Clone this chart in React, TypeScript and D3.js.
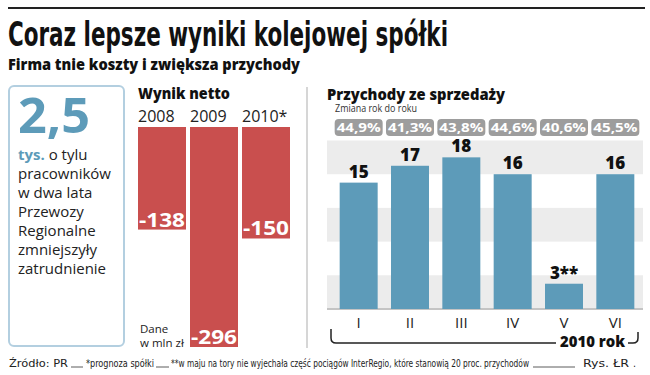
import React from "react";
import * as d3 from "d3";

const years = ["2008", "2009", "2010*"];
const netResult = [-138, -296, -150];
const months = ["I", "II", "III", "IV", "V", "VI"];
const revenue = [15, 17, 18, 16, 3, 16];
const revenueLabels = ["15", "17", "18", "16", "3**", "16"];
const yoyChange = ["44,9%", "41,3%", "43,8%", "44,6%", "40,6%", "45,5%"];
const boxLines = ["pracowników", "w dwa lata", "Przewozy", "Regionalne", "zmniejszyły", "zatrudnienie"];
const bandTicks = [0, 8, 16];

const RED = "#c94f4e";
const BLUE = "#5d9bb9";
const NARROW = "'Liberation Sans Narrow', 'DejaVu Sans Condensed', sans-serif";
const SANS = "'Open Sans', 'Noto Sans', sans-serif";

export default function App() {
  const W = 650, H = 375;

  // left chart
  const xNet = d3.scaleBand<string>().domain(years).range([138, 290]).paddingInner(0.077).paddingOuter(0);
  const yNet = d3.scaleLinear().domain([0, -296]).range([127, 347]);

  // right chart
  const xRev = d3.scaleBand<string>().domain(months).range([333, 641]).paddingInner(0.26).paddingOuter(0.13);
  const yRev = d3.scaleLinear().domain([0, 20]).range([309, 140.5]);

  const bracketL = 331, bracketR = 638, bracketY = 343;

  return (
    <svg width={W} height={H} style={{ position: "absolute", left: 0, top: 0, background: "#fff" }}>
      <rect x={0} y={0} width={W} height={H} fill="#fff" />
      {/* top rule */}
      <line x1={8} x2={645} y1={8} y2={8} stroke="#222" strokeWidth={2.2} />
      <text x={8} y={46} fontFamily={NARROW} fontWeight={700} fontSize={34} fill="#111" textLength={440} lengthAdjust="spacingAndGlyphs">
        Coraz lepsze wyniki kolejowej spółki
      </text>
      <text x={8} y={70} fontFamily={SANS} fontWeight={800} fontSize={16} fill="#111" textLength={292} lengthAdjust="spacingAndGlyphs">
        Firma tnie koszty i zwiększa przychody
      </text>

      {/* left box */}
      <rect x={9} y={86} width={115} height={260} rx={5} fill="none" stroke="#b3cfe0" strokeWidth={2} />
      <text x={18} y={133} fontFamily={SANS} fontWeight={700} fontSize={48} fill={BLUE} textLength={72} lengthAdjust="spacingAndGlyphs">
        2,5
      </text>
      <text x={18} y={160} fontFamily={SANS} fontSize={15} fill="#222">
        <tspan fontWeight={700} fill={BLUE}>tys.</tspan>
        <tspan> o tylu</tspan>
      </text>
      {boxLines.map((t, i) => (
        <text key={t} x={18} y={179 + i * 19} fontFamily={SANS} fontSize={15} fill="#222">
          {t}
        </text>
      ))}

      {/* Wynik netto */}
      <text x={138} y={99} fontFamily={SANS} fontWeight={800} fontSize={15.5} fill="#111" textLength={92} lengthAdjust="spacingAndGlyphs">
        Wynik netto
      </text>
      {years.map((y) => (
        <text key={y} x={xNet(y)!} y={122} fontFamily={SANS} fontWeight={400} fontSize={16} fill="#222">
          {y}
        </text>
      ))}
      {years.map((y, i) => {
        const x = xNet(y)!;
        const y0 = yNet(0);
        const y1 = yNet(netResult[i]);
        return (
          <g key={"b" + y}>
            <rect x={x} y={y0} width={xNet.bandwidth()} height={y1 - y0} fill={RED} />
            <text x={x + 1} y={y1 - 3} fontFamily={SANS} fontWeight={700} fontSize={20} fill="#fff" textLength={46} lengthAdjust="spacingAndGlyphs">
              {String(netResult[i])}
            </text>
          </g>
        );
      })}
      <text x={140} y={333} fontFamily={SANS} fontSize={11.5} fill="#222">Dane</text>
      <text x={140} y={347} fontFamily={SANS} fontSize={11.5} fill="#222">w mln zł</text>

      {/* separator */}
      <line x1={307} x2={307} y1={87} y2={348} stroke="#c8c8c8" strokeWidth={1.5} />

      {/* Przychody */}
      <text x={327} y={100} fontFamily={SANS} fontWeight={800} fontSize={16.5} fill="#111" textLength={178} lengthAdjust="spacingAndGlyphs">
        Przychody ze sprzedaży
      </text>
      <text x={335} y={112} fontFamily={SANS} fontSize={10} fill="#333" textLength={82} lengthAdjust="spacingAndGlyphs">
        Zmiana rok do roku
      </text>
      {months.map((m, i) => {
        const cx = xRev(m)! + xRev.bandwidth() / 2;
        return (
          <g key={"p" + m}>
            <rect x={cx - 24} y={119} width={48} height={17} rx={4} fill="#9d9d9d" />
            <text x={cx} y={132} textAnchor="middle" fontFamily={SANS} fontWeight={700} fontSize={13} fill="#fff" textLength={44} lengthAdjust="spacingAndGlyphs">
              {yoyChange[i]}
            </text>
          </g>
        );
      })}
      {bandTicks.map((t) => (
        <rect key={"band" + t} x={327} y={yRev(t + 4)} width={316} height={yRev(t) - yRev(t + 4)} fill="#ececec" />
      ))}
      <line x1={327} x2={643} y1={yRev(0)} y2={yRev(0)} stroke="#c4c4c4" strokeWidth={2} />
      {months.map((m, i) => {
        const x = xRev(m)!;
        const top = yRev(revenue[i]);
        const cx = x + xRev.bandwidth() / 2;
        return (
          <g key={"r" + m}>
            <rect x={x} y={top} width={xRev.bandwidth()} height={yRev(0) - top} fill={BLUE} />
            <text x={cx} y={top - 5} textAnchor="middle" fontFamily={SANS} fontWeight={800} fontSize={17} fill="#111">
              {revenueLabels[i]}
            </text>
            <text x={cx} y={328} textAnchor="middle" fontFamily={SANS} fontWeight={400} fontSize={15} fill="#222">
              {m}
            </text>
          </g>
        );
      })}
      {/* bracket */}
      <path
        d={`M${bracketL},${bracketY - 14} L${bracketL},${bracketY - 5} Q${bracketL},${bracketY} ${bracketL + 5},${bracketY} L556,${bracketY}`}
        fill="none" stroke="#222" strokeWidth={1.5}
      />
      <path
        d={`M628,${bracketY} L${bracketR - 5},${bracketY} Q${bracketR},${bracketY} ${bracketR},${bracketY - 5} L${bracketR},${bracketY - 11}`}
        fill="none" stroke="#222" strokeWidth={1.5}
      />
      <text x={560} y={347} fontFamily={SANS} fontWeight={800} fontSize={16.5} fill="#111" textLength={65} lengthAdjust="spacingAndGlyphs">
        2010 rok
      </text>

      {/* footer */}
      <g fontFamily={NARROW} fontSize={10.5} fill="#222">
        <text x={9} y={367} textLength={59} lengthAdjust="spacingAndGlyphs">Źródło: PR</text>
        <line x1={71} x2={83} y1={367} y2={367} stroke="#333" strokeWidth={0.8} />
        <text x={86} y={367} textLength={68} lengthAdjust="spacingAndGlyphs">*prognoza spółki</text>
        <line x1={156} x2={169} y1={367} y2={367} stroke="#333" strokeWidth={0.8} />
        <text x={171} y={367} textLength={358} lengthAdjust="spacingAndGlyphs">
          **w maju na tory nie wyjechała część pociągów InterRegio, które stanowią 20 proc. przychodów
        </text>
        <line x1={533} x2={575} y1={367} y2={367} stroke="#333" strokeWidth={0.8} />
        <text x={583} y={367} textLength={46} lengthAdjust="spacingAndGlyphs">Rys. ŁR</text>
        <text x={633} y={367}>.</text>
      </g>
    </svg>
  );
}
